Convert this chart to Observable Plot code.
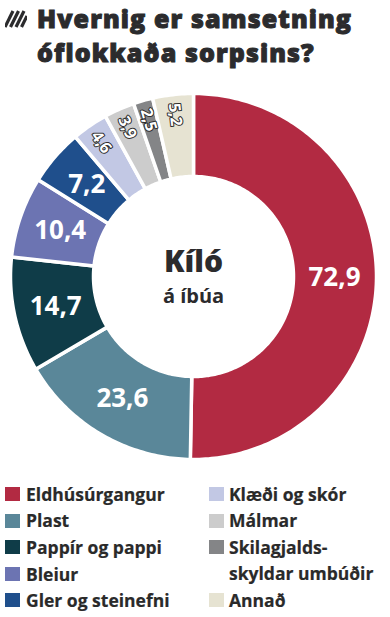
<!DOCTYPE html>
<html><head><meta charset="utf-8">
<script src="https://cdn.jsdelivr.net/npm/d3@7"></script>
<script src="https://cdn.jsdelivr.net/npm/@observablehq/plot@0.6"></script>
<style>
body{margin:0;background:#fff;width:390px;height:617px;overflow:hidden;font-family:"Open Sans",sans-serif;position:relative;}
#icon{position:absolute;left:5px;top:10px;}
.title{position:absolute;left:37px;font-family:"Open Sans",sans-serif;font-weight:800;font-size:25px;line-height:34px;color:#2b2b2d;white-space:nowrap;-webkit-text-stroke:1px #2b2b2d;letter-spacing:1.1px;}
#chart{position:absolute;left:0;top:84px;}
.leg{position:absolute;font-weight:700;font-size:17.5px;color:#2a2a2a;line-height:26.5px;white-space:pre-line;-webkit-text-stroke:0.2px #2a2a2a;}
.sw{position:absolute;width:15px;height:14px;}
</style></head><body>
<svg id="icon" width="22" height="18" viewBox="0 0 22 18">
  <g stroke="#2b2b2d" stroke-width="3.2">
    <line x1="0" y1="17" x2="8" y2="1"/>
    <line x1="5.5" y1="17" x2="13.5" y2="1"/>
    <line x1="11" y1="17" x2="19" y2="1"/>
    <line x1="16.5" y1="17" x2="22" y2="6"/>
  </g>
</svg>
<div class="title" style="top:1px">Hvernig er samsetning</div>
<div class="title" style="top:35px">óflokkaða sorpsins?</div>
<div id="chart"></div>
<div id="legend"></div>
<script>
const names = ["Eldhúsúrgangur","Plast","Pappír og pappi","Bleiur","Gler og steinefni","Klæði og skór","Málmar","Skilagjalds-\nskyldar umbúðir","Annað"];
const values = [72.9, 23.6, 14.7, 10.4, 7.2, 4.6, 3.9, 2.5, 5.2];
const colors = ["#b22a42","#5a8799","#0f3c48","#6c74b2","#1f4f8c","#c2c8e4","#cccccc","#848587","#e6e3d2"];
const centerLines = ["Kíló","á íbúa"];

const R0 = 100, R1 = 183;
const arcs = d3.pie().sort(null).value(d => d)(values);
const fmt = v => v.toFixed(1).replace(".", ",");

const pts = [];
arcs.forEach((a, i) => {
  const n = Math.max(8, Math.ceil((a.endAngle - a.startAngle) * 60));
  for (let k = 0; k <= n; k++) {
    const t = a.startAngle + (a.endAngle - a.startAngle) * k / n;
    pts.push({name: names[i], x: R1 * Math.sin(t), y: R1 * Math.cos(t)});
  }
  for (let k = n; k >= 0; k--) {
    const t = a.startAngle + (a.endAngle - a.startAngle) * k / n;
    pts.push({name: names[i], x: R0 * Math.sin(t), y: R0 * Math.cos(t)});
  }
});

const big = [], small = [];
arcs.forEach((a, i) => {
  const m = (a.startAngle + a.endAngle) / 2;
  if (values[i] >= 6) {
    const r = 141;
    big.push({x: r * Math.sin(m), y: r * Math.cos(m), t: fmt(values[i])});
  } else {
    const r = 163;
    const rot = Math.atan2(Math.cos(m), -Math.sin(m)) * 180 / Math.PI;
    small.push({x: r * Math.sin(m), y: r * Math.cos(m), t: fmt(values[i]), rot});
  }
});

const chart = Plot.plot({
  width: 390, height: 384, margin: 0,
  x: {domain: [-193, 197], axis: null},
  y: {domain: [-192, 192], axis: null},
  color: {domain: names, range: colors},
  marks: [
    Plot.line(pts, {x: "x", y: "y", z: "name", fill: "name", stroke: "white", strokeWidth: 3.5, curve: "linear-closed"}),
    Plot.text(big, {x: "x", y: "y", text: "t", fill: "white", fontSize: 26, fontWeight: 700, fontFamily: "Open Sans"}),
    Plot.text(small, {x: "x", y: "y", text: "t", rotate: "rot", fill: "white", stroke: "#2d2d2d", strokeWidth: 2, fontSize: 16, fontWeight: 700, fontFamily: "Open Sans"}),
    Plot.text(centerLines.slice(0, 1), {x: () => 0, y: () => 0, text: d => d, dy: -14, fill: "#2b2b2d", fontSize: 30, fontWeight: 800, fontFamily: "Open Sans"}),
    Plot.text(centerLines.slice(1), {x: () => 0, y: () => 0, text: d => d, dy: 20, fill: "#2b2b2d", fontSize: 20, fontWeight: 700, fontFamily: "Open Sans"})
  ]
});
document.getElementById("chart").appendChild(chart);

// legend
const leg = document.getElementById("legend");
const rows = [[0,0],[0,1],[0,2],[0,3],[0,4],[1,0],[1,1],[1,2],[1,4]];
const colX = [5, 209], textX = [26, 229];
names.forEach((nm, i) => {
  const [c, r] = rows[i];
  const top = 494 + r * 26.6;
  const sw = document.createElement("div");
  sw.className = "sw"; sw.style.background = colors[i];
  sw.style.left = colX[c] + "px"; sw.style.top = (top - 7) + "px";
  leg.appendChild(sw);
  const t = document.createElement("div");
  t.className = "leg"; t.textContent = nm;
  t.style.left = textX[c] + "px"; t.style.top = (top - 13.25) + "px";
  leg.appendChild(t);
});
</script>
</body></html>
